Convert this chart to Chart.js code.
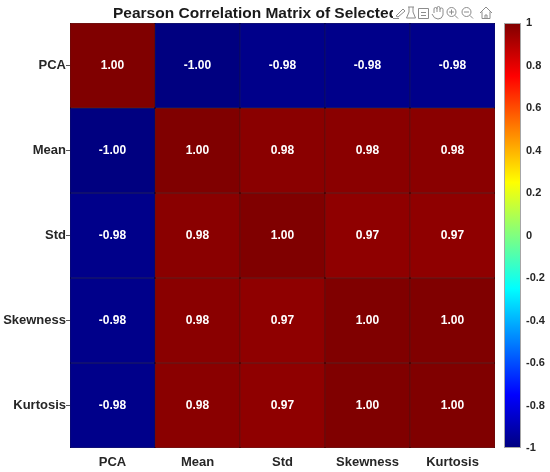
<!DOCTYPE html>
<html>
<head>
<meta charset="utf-8">
<script src="https://cdn.jsdelivr.net/npm/chart.js@4.4.0/dist/chart.umd.min.js"></script>
<style>
body { margin: 0; background: #fff; }
#wrap { width: 550px; height: 472px; }
</style>
</head>
<body>
<div id="wrap"><canvas id="heat"></canvas></div>
<script>
// data
var features = ['PCA', 'Mean', 'Std', 'Skewness', 'Kurtosis'];
var corrPCA  = [1.00, -1.00, -0.98, -0.98, -0.98];
var corrMean = [-1.00, 1.00, 0.98, 0.98, 0.98];
var corrStd  = [-0.98, 0.98, 1.00, 0.97, 0.97];
var corrSkew = [-0.98, 0.98, 0.97, 1.00, 1.00];
var corrKurt = [-0.98, 0.98, 0.97, 1.00, 1.00];
var matrix = [corrPCA, corrMean, corrStd, corrSkew, corrKurt];
var colorMin = -1, colorMax = 1, colorStep = 0.2;
var titleText = 'Pearson Correlation Matrix of Selected Features';

Chart.defaults.font.family = "'Liberation Sans', Arial, sans-serif";
Chart.defaults.color = '#262626';

// matlab jet colormap
function jet(v) {
	var t = (v - colorMin) / (colorMax - colorMin);
	var c = function(x) {
		return Math.round(255 * Math.max(0, Math.min(1, 1.5 - Math.abs(4 * t - x))));
	};
	return 'rgb(' + c(3) + ',' + c(2) + ',' + c(1) + ')';
}

var datasets = [];
for (var r = 0; r < features.length; r++) {
	datasets.push({
		label: features[r],
		data: features.map(function() { return 1; }),
		backgroundColor: matrix[r].map(jet),
		borderColor: '#000',
		borderWidth: 0.5,
		borderSkipped: false,
		barPercentage: 1,
		categoryPercentage: 1
	});
}

var cellLabels = {
	id: 'cellLabels',
	afterDatasetsDraw: function(chart) {
		var ctx = chart.ctx;
		ctx.save();
		ctx.font = 'bold 12px ' + Chart.defaults.font.family;
		ctx.fillStyle = '#fff';
		ctx.textAlign = 'center';
		ctx.textBaseline = 'middle';
		chart.data.datasets.forEach(function(ds, r) {
			chart.getDatasetMeta(r).data.forEach(function(bar, c) {
				var p = bar.getCenterPoint();
				ctx.fillText(matrix[r][c].toFixed(2), p.x, p.y);
			});
		});
		ctx.restore();
	}
};

var colorBar = {
	id: 'colorBar',
	afterDraw: function(chart) {
		var s = chart.scales.cb;
		var ctx = chart.ctx;
		var w = 17, x0 = s.left - w;
		var g = ctx.createLinearGradient(0, s.bottom, 0, s.top);
		for (var i = 0; i <= 64; i++) {
			g.addColorStop(i / 64, jet(colorMin + (colorMax - colorMin) * i / 64));
		}
		ctx.save();
		ctx.fillStyle = g;
		ctx.fillRect(x0, s.top, w, s.bottom - s.top);
		ctx.strokeStyle = '#a6a6a6';
		ctx.lineWidth = 1;
		ctx.strokeRect(x0 + 0.5, s.top + 0.5, w - 1, s.bottom - s.top - 1);
		ctx.restore();
	}
};

// title plus the figure toolbar that sits over its end
var titleBar = {
	id: 'titleBar',
	afterDraw: function(chart) {
		var ctx = chart.ctx;
		ctx.save();
		ctx.font = 'bold 15.5px ' + Chart.defaults.font.family;
		ctx.fillStyle = '#1a1a1a';
		ctx.textBaseline = 'alphabetic';
		ctx.fillText(titleText, 113, 17.5);
		ctx.fillStyle = '#fff';
		ctx.fillRect(393, 0, 105, 21);

		ctx.strokeStyle = '#8c8c8c';
		ctx.lineWidth = 1;
		// pen
		ctx.beginPath();
		ctx.moveTo(396, 16); ctx.lineTo(403, 9); ctx.lineTo(405, 11); ctx.lineTo(398, 17); ctx.closePath();
		ctx.moveTo(393, 18.5); ctx.lineTo(399, 18.5);
		ctx.stroke();
		// flask
		ctx.beginPath();
		ctx.moveTo(409, 7); ctx.lineTo(409, 12); ctx.lineTo(406.5, 18); ctx.lineTo(415.5, 18); ctx.lineTo(413, 12); ctx.lineTo(413, 7);
		ctx.moveTo(408, 7); ctx.lineTo(414, 7);
		ctx.stroke();
		// legend box
		ctx.beginPath();
		ctx.rect(418.5, 8.5, 10, 10);
		ctx.moveTo(421, 12.5); ctx.lineTo(426, 12.5);
		ctx.moveTo(421, 15.5); ctx.lineTo(426, 15.5);
		ctx.stroke();
		// hand
		ctx.beginPath();
		ctx.moveTo(434, 13); ctx.lineTo(434, 9); ctx.arc(435.5, 9, 1.5, Math.PI, 0);
		ctx.lineTo(437, 12); ctx.moveTo(437, 9); ctx.arc(438.5, 8, 1.5, Math.PI, 0);
		ctx.lineTo(440, 12); ctx.moveTo(440, 9.5); ctx.arc(441.5, 9.5, 1.5, Math.PI, 0);
		ctx.lineTo(443, 15); ctx.quadraticCurveTo(442, 19, 438, 19);
		ctx.quadraticCurveTo(434, 19, 432, 14);
		ctx.stroke();
		// zoom in / zoom out
		[[451.5, true], [466.5, false]].forEach(function(z) {
			ctx.beginPath();
			ctx.arc(z[0], 12, 4.5, 0, Math.PI * 2);
			ctx.moveTo(z[0] + 3.3, 15.3); ctx.lineTo(z[0] + 6.5, 18.5);
			ctx.moveTo(z[0] - 2.5, 12); ctx.lineTo(z[0] + 2.5, 12);
			if (z[1]) { ctx.moveTo(z[0], 9.5); ctx.lineTo(z[0], 14.5); }
			ctx.stroke();
		});
		// home
		ctx.beginPath();
		ctx.moveTo(480, 13); ctx.lineTo(486, 7); ctx.lineTo(492, 13);
		ctx.moveTo(482, 11.5); ctx.lineTo(482, 18.5); ctx.lineTo(490, 18.5); ctx.lineTo(490, 11.5);
		ctx.moveTo(485, 18.5); ctx.lineTo(485, 15); ctx.lineTo(487, 15); ctx.lineTo(487, 18.5);
		ctx.stroke();
		ctx.restore();
	}
};

var ctx = document.getElementById('heat');

var heatmap = new Chart(ctx, {
	type: 'bar',
	data: {
		labels: features,
		datasets: datasets
	},
	options: {
		responsive: true,
		maintainAspectRatio: false,
		animation: false,
		layout: { padding: { top: 23, left: 0, right: 0, bottom: 0 } },
		plugins: {
			legend: { display: false },
			tooltip: { enabled: false },
			title: { display: false }
		},
		scales: {
			x: {
				stacked: true,
				grid: { display: false },
				border: { display: false },
				ticks: { font: { size: 13, weight: 'bold' }, padding: -1, maxRotation: 0 },
				afterFit: function(s) { s.height = 24; }
			},
			y: {
				type: 'linear',
				stacked: true,
				reverse: true,
				min: 0,
				max: features.length,
				grid: { drawOnChartArea: false, drawTicks: true, tickLength: 4, color: '#555' },
				border: { display: false },
				ticks: {
					font: { size: 13, weight: 'bold' },
					padding: 0,
					callback: function(v) { return features[Math.round(v - 0.5)]; }
				},
				afterBuildTicks: function(s) {
					s.ticks = features.map(function(f, i) { return { value: i + 0.5 }; });
				},
				afterFit: function(s) { s.width = 70; }
			},
			gap: {
				type: 'linear',
				position: 'right',
				weight: 0,
				min: 0, max: 1,
				grid: { display: false },
				border: { display: false },
				ticks: { display: false },
				afterFit: function(s) { s.width = 26; }
			},
			cb: {
				type: 'linear',
				position: 'right',
				weight: 1,
				min: colorMin,
				max: colorMax,
				grid: { display: false, drawTicks: false, tickLength: 0 },
				border: { display: false },
				ticks: {
					stepSize: colorStep,
					padding: 5,
					font: { size: 11, weight: 'bold' },
					callback: function(v) { var n = +v.toFixed(1); return (n === 0 ? 0 : n) + ''; }
				},
				afterFit: function(s) { s.width = 29; }
			}
		}
	},
	plugins: [cellLabels, colorBar, titleBar]
});
</script>
</body>
</html>
